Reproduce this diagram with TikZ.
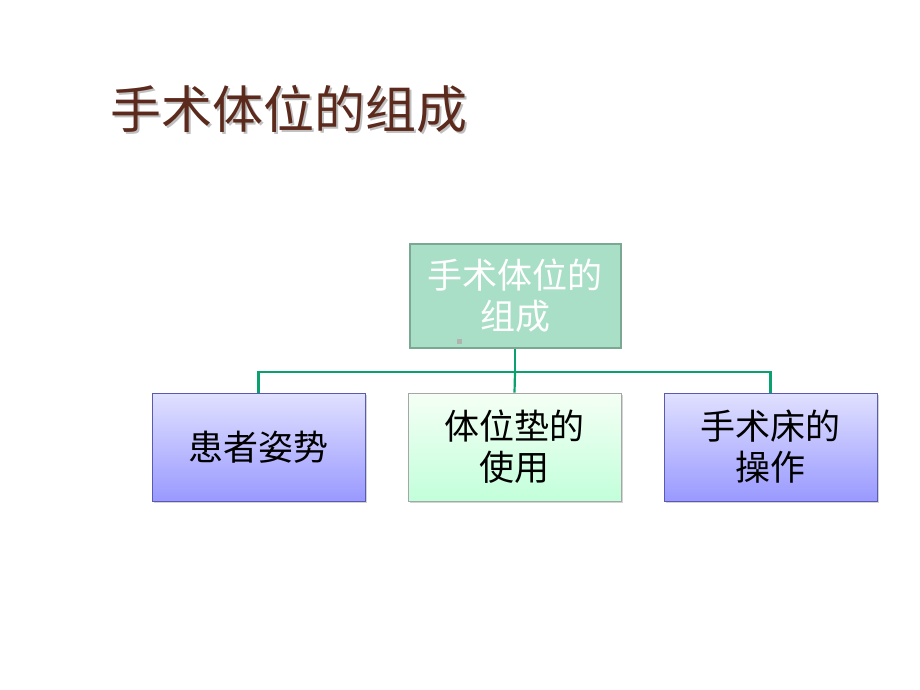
\documentclass[tikz,border=0pt]{standalone}
\usepackage{fontspec}
\newfontfamily\cjk{Noto Sans CJK SC}
\usetikzlibrary{shadows}
\definecolor{titlebrown}{HTML}{5C2A1C}
\definecolor{rootfill}{HTML}{A9DFC6}
\definecolor{rootline}{HTML}{7BA892}
\definecolor{linkgreen}{HTML}{0AA070}
\definecolor{blueline}{HTML}{5A5AB0}

\begin{document}
\begin{tikzpicture}[x=1pt,y=-1pt,
  leaf/.style={draw, minimum width=213pt, minimum height=108pt, align=center,
    font=\cjk\fontsize{35}{41}\selectfont, drop shadow={opacity=0.35, shadow xshift=2pt, shadow yshift=-2pt}},
  bluebox/.style={leaf, draw=blueline, line width=0.8pt, top color=blue!12!white, bottom color=blue!40!white},
  mintbox/.style={leaf, draw=black!35, line width=0.8pt, top color=green!4!white, bottom color=green!60!cyan!24!white},
  links/.style={linkgreen, line width=2.2pt}]

 \useasboundingbox (0,0) rectangle (920,690);

 % title with its shadow
 \node[anchor=west, text=black!25, font=\cjk\fontsize{51}{60}\selectfont] (title_shadow) at (109,111)
     {手术体位的组成};
 \node[anchor=west, text=titlebrown, font=\cjk\fontsize{51}{60}\selectfont] (title) at (107,109)
     {手术体位的组成};

 \node[draw=rootline, fill=rootfill, line width=2pt, minimum width=211pt, minimum height=104pt,
       align=center, text=white, font=\cjk\fontsize{35}{41}\selectfont] (root) at (515,296)
     {手术体位的\\组成};
 \fill[black!30] (457,339) rectangle (462,344);

 \node[bluebox] (posture) at (258.5,447) {患者姿势};
 \node[mintbox] (cushion) at (514.5,447) {体位垫的\\使用};
 \node[bluebox] (table) at (770.5,447) {手术床的\\操作};

 \coordinate (junction) at (515,372);

 \draw[links] (root.south) -- (junction);
 \draw[links] (posture.north) |- (junction) -| (table.north);
 \draw[links] (junction) -- (cushion.north);

\end{tikzpicture}
\end{document}
